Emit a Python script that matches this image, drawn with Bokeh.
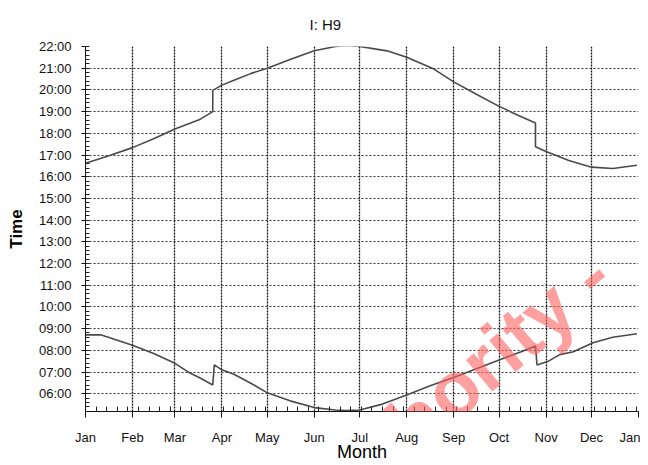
import math
from bokeh.plotting import figure
from bokeh.models import FixedTicker, Range1d, Label
from bokeh.embed import file_html
from bokeh.resources import INLINE

# ---- data ----
month_names = ["Jan", "Feb", "Mar", "Apr", "May", "Jun", "Jul", "Aug",
               "Sep", "Oct", "Nov", "Dec", "Jan"]
month_start_days = [0, 31, 59, 90, 120, 151, 181, 212, 243, 273, 304, 334, 365]
hour_ticks = list(range(6, 23))
hour_labels = ["%02d:00" % h for h in hour_ticks]

# sunset (day of year, decimal hours)
sunset_day = [0, 15, 31, 45, 59, 75, 84, 84, 90, 98, 109, 120, 135, 151, 165, 172,
              181, 199, 212, 230, 243, 258, 273, 288, 297, 297, 304, 319, 334,
              348, 364]
sunset_time = [16.62, 16.95, 17.34, 17.75, 18.2, 18.62, 19.0, 19.98, 20.22, 20.45,
               20.75, 21.0, 21.4, 21.8, 22.0, 22.05, 22.0, 21.8, 21.5, 20.96,
               20.37, 19.8, 19.24, 18.75, 18.47, 17.38, 17.16, 16.75, 16.44,
               16.38, 16.53]

# sunrise (day of year, decimal hours)
sunrise_day = [0, 10, 31, 45, 59, 69, 75, 84, 85, 90, 98, 110, 120, 135, 151, 165,
               172, 181, 196, 212, 227, 243, 258, 273, 288, 297, 298, 305, 313,
               322, 335, 348, 364]
sunrise_time = [8.71, 8.72, 8.23, 7.85, 7.4, 6.95, 6.75, 6.4, 7.33, 7.1, 6.9, 6.45,
                6.04, 5.67, 5.36, 5.25, 5.22, 5.25, 5.52, 5.94, 6.35, 6.75, 7.15,
                7.55, 7.95, 8.2, 7.32, 7.48, 7.8, 7.93, 8.35, 8.6, 8.76]

# ---- figure ----
p = figure(width=640, height=464, output_backend="svg", toolbar_location=None,
           x_range=Range1d(0, 365), y_range=Range1d(5.18, 22.0),
           min_border_left=85, min_border_right=2, min_border_top=40,
           min_border_bottom=53, title="I: H9")
p.outline_line_color = None
p.background_fill_color = "white"
p.border_fill_color = "white"

p.title.align = "left"
p.title.offset = 224
p.title.text_font = "Liberation Sans"
p.title.text_font_size = "15px"
p.title.text_font_style = "normal"
p.title.text_color = "#111111"
p.title.standoff = 27

weekly = list(range(7, 365, 7))
p.xaxis.ticker = FixedTicker(ticks=month_start_days, minor_ticks=weekly)
p.xaxis.major_label_overrides = {d: n for d, n in zip(month_start_days, month_names)}
minor_y = [5.2 + 0.2 * i for i in range(85)]
p.yaxis.ticker = FixedTicker(ticks=hour_ticks, minor_ticks=minor_y)
p.yaxis.major_label_overrides = {h: l for h, l in zip(hour_ticks, hour_labels)}

for ax in (p.xaxis, p.yaxis):
    ax.axis_line_color = "#111111"
    ax.axis_line_width = 1
    ax.major_tick_line_color = "#111111"
    ax.minor_tick_line_color = "#222222"
    ax.major_label_text_font = "Liberation Sans"
    ax.major_label_text_font_size = "13px"
    ax.major_label_text_color = "#111111"
    ax.axis_label_text_font = "Liberation Sans"
    ax.axis_label_text_color = "#000000"

p.xaxis.major_tick_in = 0
p.xaxis.major_tick_out = 6
p.xaxis.minor_tick_in = 5
p.xaxis.minor_tick_out = 0
p.xaxis.major_label_standoff = 12
p.xaxis.axis_label = "Month"
p.xaxis.axis_label_text_font_size = "18px"
p.xaxis.axis_label_text_font_style = "normal"
p.xaxis.axis_label_standoff = -6

p.yaxis.major_tick_in = 0
p.yaxis.major_tick_out = 4
p.yaxis.minor_tick_in = 4
p.yaxis.minor_tick_out = 0
p.yaxis.major_label_standoff = 10
p.yaxis.axis_label = "Time"
p.yaxis.axis_label_text_font_size = "17px"
p.yaxis.axis_label_text_font_style = "bold"
p.yaxis.axis_label_standoff = 10

p.xgrid.grid_line_color = "#111111"
p.xgrid.grid_line_dash = "2 1"
p.xgrid.grid_line_width = 1.3
p.ygrid.grid_line_color = "#333333"
p.ygrid.grid_line_dash = "2 2"
p.ygrid.grid_line_width = 1

p.line(sunset_day, sunset_time, line_color="#4a4a4a", line_width=1.6)
p.line(sunrise_day, sunrise_time, line_color="#4a4a4a", line_width=1.6)

wm = Label(x=193, y=3.3, text="thority - ", angle=math.radians(40),
           text_font="Liberation Sans", text_font_size="78px",
           text_font_style="bold", text_color="#ff6060", text_alpha=0.6,
           text_align="left", text_baseline="alphabetic")
p.add_layout(wm)

open("out.html", "w").write(file_html(p, INLINE))
